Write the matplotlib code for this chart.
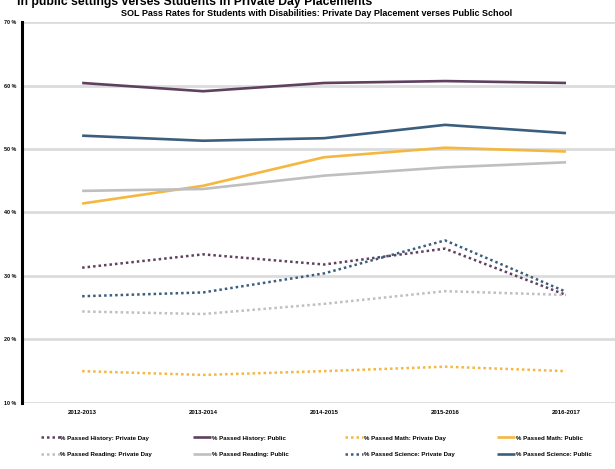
import matplotlib
matplotlib.use("Agg")
import matplotlib.pyplot as plt

plt.rcParams["font.family"] = ["Liberation Sans", "DejaVu Sans"]

years = ["2012-2013", "2013-2014", "2014-2015", "2015-2016", "2016-2017"]

history_private = [31.3, 33.4, 31.8, 34.3, 27.0]
history_public = [60.4, 59.1, 60.4, 60.7, 60.4]
math_private = [15.0, 14.4, 15.0, 15.7, 15.0]
math_public = [41.4, 44.2, 48.7, 50.2, 49.6]
reading_private = [24.4, 24.0, 25.6, 27.6, 27.0]
reading_public = [43.4, 43.7, 45.8, 47.1, 47.9]
science_private = [26.8, 27.4, 30.4, 35.6, 27.5]
science_public = [52.1, 51.3, 51.7, 53.8, 52.5]

purple = "#5f405f"
yellow = "#f4b73f"
gray = "#bfbfbf"
blue = "#3b5e7e"

fig = plt.figure(figsize=(6.15, 4.69), dpi=100)
ax = fig.add_axes([0.036, 0.141, 0.964, 0.812])

x = list(range(len(years)))
dot = (0, (1, 1.2))
lw = 1.9

series = [
    (history_private, purple, dot, "% Passed History: Private Day"),
    (history_public, purple, "-", "% Passed History: Public"),
    (math_private, yellow, dot, "% Passed Math: Private Day"),
    (math_public, yellow, "-", "% Passed Math: Public"),
    (reading_private, gray, dot, "% Passed Reading: Private Day"),
    (reading_public, gray, "-", "% Passed Reading: Public"),
    (science_private, blue, dot, "% Passed Science: Private Day"),
    (science_public, blue, "-", "% Passed Science: Public"),
]
handles = []
for vals, c, ls, lab in series:
    h, = ax.plot(x, vals, color=c, linestyle=ls, lw=lw if ls == "-" else 1.8,
                 label=lab, solid_capstyle="butt")
    handles.append(h)

ax.set_ylim(10, 70)
ax.set_xlim(-0.496, 4.405)
ax.set_yticks([10, 20, 30, 40, 50, 60, 70])
ax.set_yticklabels([f"{v} %" for v in [10, 20, 30, 40, 50, 60, 70]],
                   fontsize=3.9, fontweight="bold")
ax.set_xticks(x)
ax.set_xticklabels(years, fontsize=4.3, fontweight="bold")
ax.tick_params(axis="both", length=0, pad=4)
ax.tick_params(axis="x", pad=5)
ax.yaxis.grid(True, color="#dcdcdc", lw=2)
ax.set_axisbelow(True)
for s in ["top", "right", "bottom"]:
    ax.spines[s].set_visible(False)
ax.spines["left"].set_linewidth(2.2)
ax.spines["left"].set_color("black")

# title partly cut at the top, as in the source image
fig.text(0.028, 0.996, "In public settings verses Students in Private Day Placements",
         fontsize=8.8, fontweight="bold", va="center", ha="left")
fig.text(0.515, 0.971,
         "SOL Pass Rates for Students with Disabilities: Private Day Placement verses Public School",
         fontsize=6.5, fontweight="bold", ha="center", va="center")

# legend: four fixed-width columns of two rows
col_x = [0.067, 0.314, 0.561, 0.808]
for i, cx in enumerate(col_x):
    hs = [handles[i], handles[i + 4]]
    fig.legend(hs, [h.get_label() for h in hs], loc="upper left",
               bbox_to_anchor=(cx, 0.072), frameon=False,
               prop={"size": 4.4, "weight": "bold"}, handlelength=3.0,
               handletextpad=0.1, labelspacing=1.8, borderpad=0,
               borderaxespad=0)

fig.savefig("out.png", dpi=100)
